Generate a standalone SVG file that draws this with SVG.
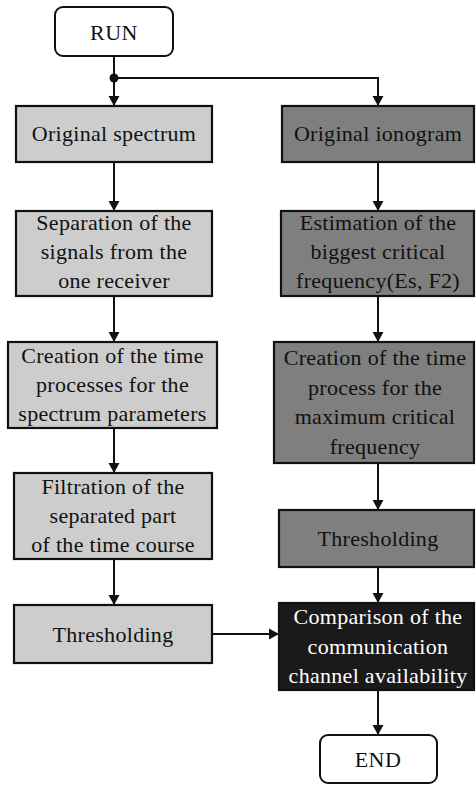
<svg xmlns="http://www.w3.org/2000/svg" width="476" height="785" viewBox="0 0 476 785">
<defs>
<marker id="ah" markerUnits="userSpaceOnUse" markerWidth="12" markerHeight="12" refX="10" refY="6" orient="auto">
<path d="M0,0.5 L10,6 L0,11.5 z" fill="#111"/>
</marker>
<style>
.term{fill:#fff;stroke:#111;stroke-width:2}
.lt{fill:#cdcdcd;stroke:#111;stroke-width:2.2}
.dk{fill:#7f7f7f;stroke:#111;stroke-width:2.2}
.bk{fill:#1a1a1a;stroke:#111;stroke-width:2.2}
text{font-family:"Liberation Serif","Times New Roman",serif;font-size:22px;letter-spacing:0.3px;text-anchor:middle;fill:#111}
.w{fill:#fff}
.c{fill:none;stroke:#111;stroke-width:2;marker-end:url(#ah)}
.n{fill:none;stroke:#111;stroke-width:2}
</style>
</defs>
<rect width="476" height="785" fill="#fff"/>
<g id="connectors">
<line class="n" x1="114" y1="56" x2="114" y2="78"/>
<circle cx="114" cy="78" r="4.5" fill="#111"/>
<line class="c" x1="114" y1="78" x2="114" y2="106"/>
<path class="c" d="M114,78 H378 V106"/>
<line class="c" x1="114" y1="162" x2="114" y2="211"/>
<line class="c" x1="114" y1="296" x2="114" y2="342"/>
<line class="c" x1="114" y1="428" x2="114" y2="473"/>
<line class="c" x1="114" y1="559" x2="114" y2="605"/>
<line class="c" x1="378" y1="162" x2="378" y2="211"/>
<line class="c" x1="378" y1="296" x2="378" y2="342"/>
<line class="c" x1="378" y1="463" x2="378" y2="510"/>
<line class="c" x1="378" y1="567" x2="378" y2="603"/>
<line class="c" x1="378" y1="690" x2="378" y2="735"/>
<line class="c" x1="212" y1="634" x2="279" y2="634"/>
</g>
<g id="run">
<rect class="term" x="55" y="7" width="118" height="49" rx="8"/>
<text x="114" y="40" style="letter-spacing:0.5px">RUN</text>
</g>
<g id="orig-spectrum">
<rect class="lt" x="16" y="106" width="196" height="56"/>
<text x="114" y="141">Original spectrum</text>
</g>
<g id="separation">
<rect class="lt" x="16" y="211" width="196" height="85"/>
<text x="114" y="230">Separation of the</text>
<text x="114" y="259">signals from the</text>
<text x="114" y="288">one receiver</text>
</g>
<g id="creation-left">
<rect class="lt" x="8" y="342" width="209" height="86"/>
<text x="112.5" y="363">Creation of the time</text>
<text x="112.5" y="392">processes for the</text>
<text x="112.5" y="421">spectrum parameters</text>
</g>
<g id="filtration">
<rect class="lt" x="14" y="473" width="198" height="86"/>
<text x="113" y="494">Filtration of the</text>
<text x="113" y="523">separated part</text>
<text x="113" y="552">of the time course</text>
</g>
<g id="threshold-left">
<rect class="lt" x="14" y="605" width="198" height="58"/>
<text x="113" y="642">Thresholding</text>
</g>
<g id="orig-ionogram">
<rect class="dk" x="282" y="106" width="192" height="56"/>
<text x="378" y="141">Original ionogram</text>
</g>
<g id="estimation">
<rect class="dk" x="281" y="211" width="193" height="85"/>
<text x="378" y="230">Estimation of the</text>
<text x="378" y="259">biggest critical</text>
<text x="378" y="288">frequency(Es, F2)</text>
</g>
<g id="creation-right">
<rect class="dk" x="274" y="342" width="200" height="121"/>
<text x="375" y="365">Creation of the time</text>
<text x="375" y="395">process for the</text>
<text x="375" y="424">maximum critical</text>
<text x="375" y="454">frequency</text>
</g>
<g id="threshold-right">
<rect class="dk" x="279" y="510" width="195" height="57"/>
<text x="378" y="546">Thresholding</text>
</g>
<g id="comparison">
<rect class="bk" x="279" y="603" width="195" height="87"/>
<text class="w" x="378" y="624">Comparison of the</text>
<text class="w" x="378" y="654">communication</text>
<text class="w" x="378" y="683">channel availability</text>
</g>
<g id="end">
<rect class="term" x="320" y="735" width="117" height="48" rx="8"/>
<text x="378" y="767" style="letter-spacing:0.5px">END</text>
</g>
</svg>
